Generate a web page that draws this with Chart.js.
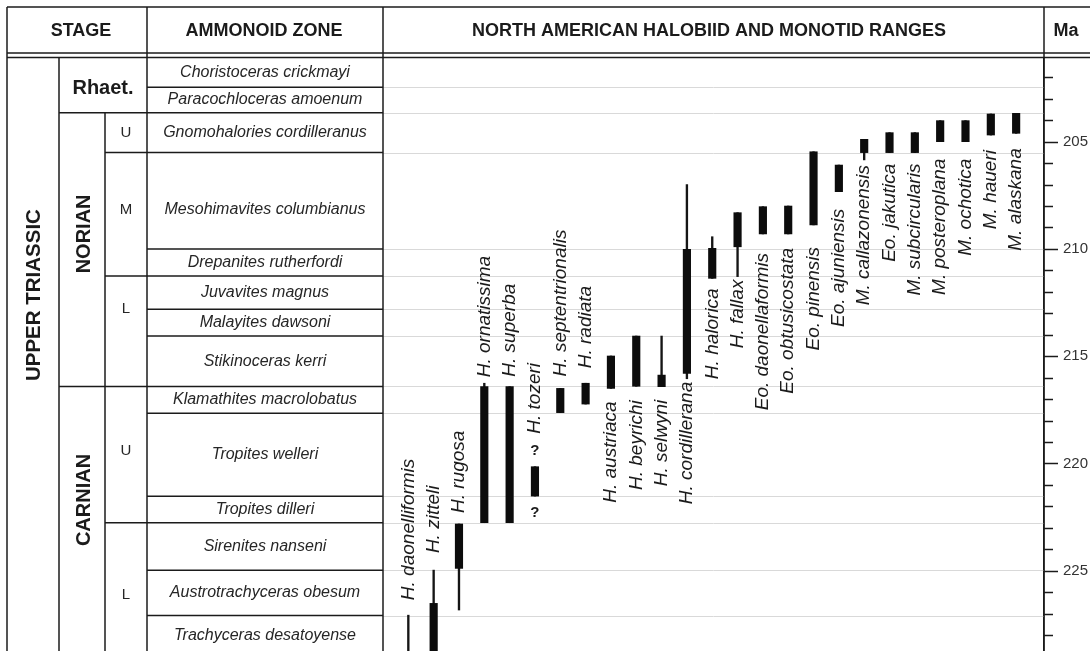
<!DOCTYPE html>
<html>
<head>
<meta charset="utf-8">
<title>North American halobiid and monotid ranges</title>
<script src="https://cdn.jsdelivr.net/npm/chart.js@4.4.1/dist/chart.umd.min.js"></script>
<style>
  html, body { margin: 0; padding: 0; background: #fff; }
  #wrap { width: 1090px; height: 651px; }
</style>
</head>
<body>
<div id="wrap"><canvas id="chart" width="1090" height="651"></canvas></div>
<script>
// ---- Time scale (Ma) ----
const maTop = 201.1;
const maBase = 228.74;

// ---- Stratigraphy ----
const zones = [
  'Choristoceras crickmayi', 'Paracochloceras amoenum', 'Gnomohalories cordilleranus',
  'Mesohimavites columbianus', 'Drepanites rutherfordi', 'Juvavites magnus',
  'Malayites dawsoni', 'Stikinoceras kerri', 'Klamathites macrolobatus',
  'Tropites welleri', 'Tropites dilleri', 'Sirenites nanseni',
  'Austrotrachyceras obesum', 'Trachyceras desatoyense'
];
const zoneBase = [202.46, 203.65, 205.51, 210.0, 211.26, 212.81, 214.06, 216.41,
                  217.66, 221.53, 222.76, 224.98, 227.09, 228.9];

const stages = ['Rhaet.', 'NORIAN', 'CARNIAN'];
const stageBase = [203.65, 216.41, 228.9];

const substages = ['U', 'M', 'L', 'U', 'L'];
const substageTop = [203.65, 205.51, 211.26, 216.41, 222.76];
const substageBase = [205.51, 211.26, 216.41, 222.76, 228.9];

// ---- Taxa, left to right ----
const taxa = [
  'H. daonelliformis', 'H. zitteli', 'H. rugosa', 'H. ornatissima', 'H. superba',
  'H. tozeri', 'H. septentrionalis', 'H. radiata', 'H. austriaca', 'H. beyrichi',
  'H. selwyni', 'H. cordillerana', 'H. halorica', 'H. fallax', 'Eo. daonellaformis',
  'Eo. obtusicostata', 'Eo. pinensis', 'Eo. ajuniensis', 'M. callazonensis',
  'Eo. jakutica', 'M. subcircularis', 'M. posteroplana', 'M. ochotica',
  'M. haueri', 'M. alaskana'
];
// Full stratigraphic range [young, old] in Ma (thin line)
const fullRange = [
  [227.07, 229.5], [224.97, 229.5], [222.82, 226.83], [216.26, 222.76], [216.42, 222.76],
  [220.15, 221.52], [216.5, 217.63], [216.26, 217.23], [214.99, 216.5], [214.06, 216.4],
  [214.06, 216.42], [207.0, 216.05], [209.43, 211.37], [208.31, 211.29], [208.03, 209.3],
  [208.0, 209.3], [205.47, 208.88], [206.09, 207.33], [204.89, 205.85],
  [204.58, 205.51], [204.58, 205.51], [204.02, 205.0], [204.02, 205.0],
  [203.71, 204.69], [203.68, 204.61]
];
// Well-documented range [young, old] in Ma (thick bar)
const coreRange = [
  null, [226.52, 229.5], [222.82, 224.89], [216.42, 222.76], [216.42, 222.76],
  [220.15, 221.52], [216.5, 217.63], [216.26, 217.23], [214.99, 216.5], [214.06, 216.4],
  [215.88, 216.42], [210.02, 215.8], [209.97, 211.37], [208.31, 209.9], [208.03, 209.3],
  [208.0, 209.3], [205.47, 208.88], [206.09, 207.33], [204.89, 205.51],
  [204.58, 205.51], [204.58, 205.51], [204.02, 205.0], [204.02, 205.0],
  [203.71, 204.69], [203.68, 204.61]
];
// Taxa whose range limits are queried
const queried = ['H. tozeri'];

// ---- Layout of annotations ----
const FONT = "'Liberation Sans', Arial, Helvetica, sans-serif";
const INK = '#1b1b1b';
const table = { left: 7, top: 7, headBottom: 53, bodyTop: 57.5, col1: 59, col2: 105, col3: 147, col4: 383, col5: 1044 };
// taxon label: side of the range it sits on, and pixel gap from the range end
const labelSide = taxa.map((t, i) => i < 8 ? 'above' : 'below');
const labelGap = [15, 17, 11, 6, 10, 33, 12, 15, 13, 14, 13, 3, 10, 3, 19, 14, 22, 17, 5, 11, 11, 17, 17, 15, 15];
// vertical placement (Ma) of the column captions
const stageLabelAt = [202.5, 209.3, 221.7];
const substageLabelAt = [204.6, 208.2, 212.8, 219.4, 226.1];
const zoneLabelAt = { 'Mesohimavites columbianus': 208.15, 'Trachyceras desatoyense': 228.0 };

function hline(ctx, x1, x2, y) { ctx.beginPath(); ctx.moveTo(x1, y); ctx.lineTo(x2, y); ctx.stroke(); }
function vline(ctx, x, y1, y2) { ctx.beginPath(); ctx.moveTo(x, y1); ctx.lineTo(x, y2); ctx.stroke(); }
function vtext(ctx, str, x, y, align) {
  ctx.save(); ctx.translate(x, y); ctx.rotate(-Math.PI / 2);
  ctx.textAlign = align; ctx.textBaseline = 'middle'; ctx.fillText(str, 0, 0); ctx.restore();
}

const rangeChart = {
  id: 'rangeChart',
  beforeDatasetsDraw(chart) {
    const { ctx, chartArea: a, scales: { y } } = chart;
    ctx.save();
    ctx.strokeStyle = '#d9d9d9';
    ctx.lineWidth = 1;
    zoneBase.forEach(m => {
      if (m > maBase) return;
      hline(ctx, a.left, a.right, Math.round(y.getPixelForValue(m)) + 0.5);
    });
    ctx.restore();
  },
  afterDraw(chart) {
    const { ctx, chartArea: a, scales: { x, y } } = chart;
    const W = chart.width, H = chart.height;
    const py = m => y.getPixelForValue(m);
    ctx.save();
    ctx.strokeStyle = INK;
    ctx.lineWidth = 1.5;
    ctx.fillStyle = INK;

    // frame and header
    hline(ctx, table.left, W, table.top);
    hline(ctx, table.left, W, table.headBottom);
    hline(ctx, table.left, W, table.bodyTop);
    vline(ctx, table.left, table.top, H);
    vline(ctx, table.col3, table.top, H);
    vline(ctx, table.col4, table.top, H);
    vline(ctx, table.col5, table.top, H);
    vline(ctx, table.col1, table.bodyTop, H);
    vline(ctx, table.col2, py(stageBase[0]), H);

    ctx.font = `bold 18px ${FONT}`;
    ctx.textAlign = 'center';
    ctx.textBaseline = 'middle';
    const hy = (table.top + table.headBottom) / 2 + 1;
    ctx.fillText('STAGE', 81, hy);
    ctx.fillText('AMMONOID ZONE', 264, hy);
    ctx.fillText('NORTH AMERICAN HALOBIID AND MONOTID RANGES', 709, hy);
    ctx.fillText('Ma', 1066, hy);

    // zone boundaries inside the table
    zoneBase.forEach(m => {
      if (m > maBase) return;
      let x0 = table.col3;
      if (stageBase.includes(m)) x0 = table.col1;
      else if (substageBase.includes(m)) x0 = table.col2;
      hline(ctx, x0, table.col4, py(m));
    });

    // zone names
    ctx.font = `italic 16px ${FONT}`;
    ctx.fillStyle = '#262626';
    zones.forEach((z, i) => {
      const top = i === 0 ? maTop : zoneBase[i - 1];
      const at = zoneLabelAt[z] !== undefined ? zoneLabelAt[z] : (top + zoneBase[i]) / 2;
      ctx.fillText(z, (table.col3 + table.col4) / 2, py(at));
    });

    // substages
    ctx.font = `15px ${FONT}`;
    substages.forEach((s, i) => ctx.fillText(s, (table.col2 + table.col3) / 2, py(substageLabelAt[i])));

    // stages
    ctx.fillStyle = INK;
    ctx.font = `bold 20px ${FONT}`;
    ctx.fillText(stages[0], (table.col1 + table.col3) / 2, py(stageLabelAt[0]));
    vtext(ctx, stages[1], 84, py(stageLabelAt[1]), 'center');
    vtext(ctx, stages[2], 84, py(stageLabelAt[2]), 'center');
    ctx.font = `bold 20.5px ${FONT}`;
    vtext(ctx, 'UPPER TRIASSIC', 34, py(212.15), 'center');

    // Ma tick marks
    for (let m = Math.ceil(maTop); m <= Math.floor(maBase); m++) {
      const ty = Math.round(py(m)) + 0.5;
      hline(ctx, a.right, a.right + (m % 5 === 0 ? 14 : 9), ty);
    }

    // taxon labels
    ctx.font = `italic 19px ${FONT}`;
    taxa.forEach((t, i) => {
      const cx = x.getPixelForValue(i);
      if (labelSide[i] === 'above') {
        vtext(ctx, t, cx, py(fullRange[i][0]) - labelGap[i], 'left');
      } else {
        vtext(ctx, t, cx, py(fullRange[i][1]) + labelGap[i], 'right');
      }
    });

    // queried range limits
    ctx.font = `bold 15px ${FONT}`;
    ctx.textAlign = 'center';
    ctx.textBaseline = 'middle';
    queried.forEach(t => {
      const i = taxa.indexOf(t);
      const cx = x.getPixelForValue(i);
      ctx.fillText('?', cx, py(coreRange[i][0]) - 16);
      ctx.fillText('?', cx, py(coreRange[i][1]) + 17);
    });
    ctx.restore();
  }
};

const thinData = fullRange.map((r, i) => r ? { x: i, y: r } : null).filter(Boolean);
const coreData = coreRange.map((r, i) => r ? { x: i, y: r } : null).filter(Boolean);

new Chart(document.getElementById('chart'), {
  type: 'bar',
  data: {
    datasets: [
      { label: 'Full range', data: thinData, backgroundColor: '#151515', barThickness: 1.7, grouped: false, order: 2 },
      { label: 'Core range', data: coreData, backgroundColor: '#0c0c0c', barThickness: 7.5, grouped: false, order: 1 }
    ]
  },
  options: {
    responsive: false,
    animation: false,
    devicePixelRatio: 1,
    layout: { padding: { left: table.col4, top: table.bodyTop + 0.5, right: 0, bottom: 0 } },
    plugins: { legend: { display: false }, tooltip: { enabled: false } },
    scales: {
      x: { type: 'linear', min: -1, max: 25.1, offset: false, display: false, grid: { offset: false } },
      y: {
        type: 'linear', position: 'right', reverse: true, min: maTop, max: maBase,
        grid: { display: false, drawTicks: false },
        border: { display: true, color: INK, width: 1.5 },
        ticks: {
          stepSize: 1, autoSkip: false, includeBounds: false, padding: 19,
          color: '#333', font: { family: FONT, size: 15 },
          callback: v => (v % 5 === 0 ? String(v) : '')
        },
        afterFit: s => { s.width = 1090 - table.col5; s.paddingTop = 0; s.paddingBottom = 0; }
      }
    }
  },
  plugins: [rangeChart]
});
</script>
</body>
</html>
